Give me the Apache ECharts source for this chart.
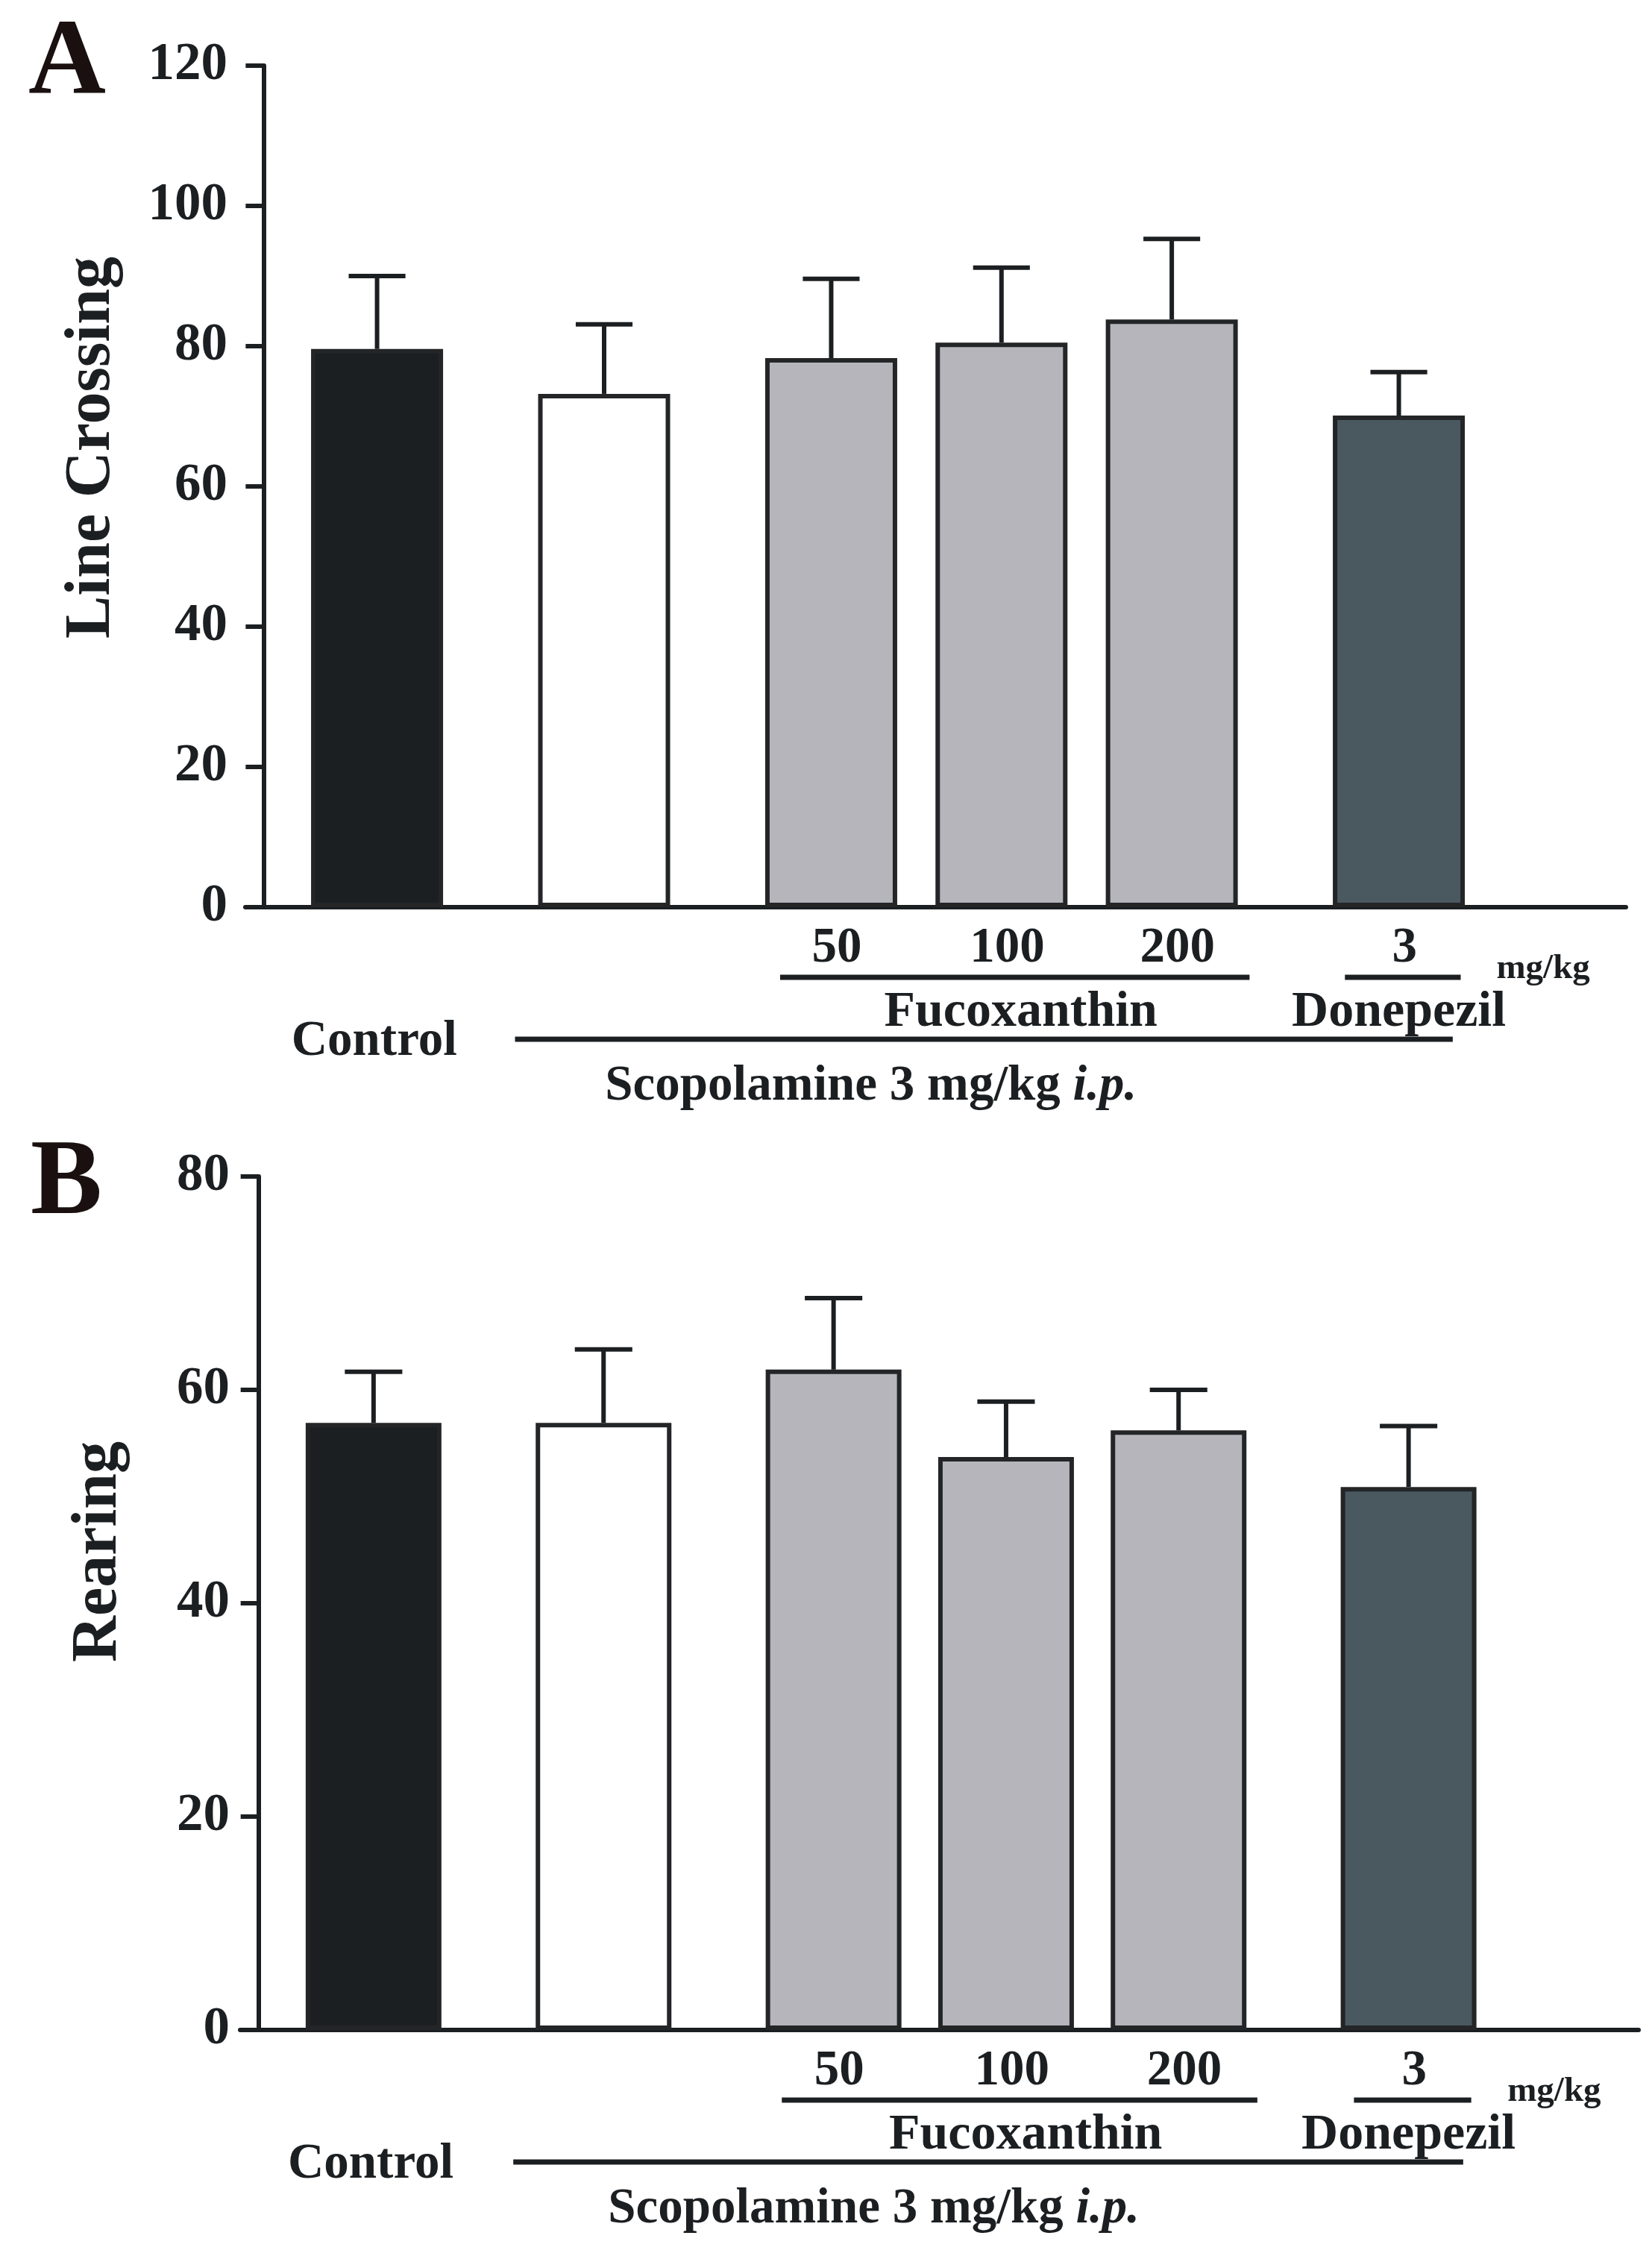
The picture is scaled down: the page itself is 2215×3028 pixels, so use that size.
<!DOCTYPE html>
<html>
<head>
<meta charset="utf-8">
<script src="https://cdn.jsdelivr.net/npm/echarts@6/dist/echarts.min.js"></script>
<style>
  html, body { margin: 0; padding: 0; background: #fff; }
  #chart { width: 2215px; height: 3028px; }
</style>
</head>
<body>
<div id="chart"></div>
<script>
// groups, in drawing order
var groups = ['Control', 'Scopolamine', 'Fucoxanthin 50', 'Fucoxanthin 100', 'Fucoxanthin 200', 'Donepezil 3'];
// place of each group on the x value axis (y axis sits at 0)
var groupPos = [2, 6, 10, 13, 16, 20];
var barColors = ['#1b1f21', '#ffffff', '#b5b5bb', '#b5b5bb', '#b5b5bb', '#4a5960'];

// A: line crossing, mean and upper error
var crossingMean = [79.6, 73.2, 78.3, 80.5, 83.8, 70.1];
var crossingErr = [10.4, 9.9, 11.3, 10.7, 11.5, 6.2];
var crossingTicks = { min: 0, max: 120, interval: 20 };

// B: rearing, mean and upper error
var rearingMean = [56.9, 56.9, 61.9, 53.7, 56.2, 50.9];
var rearingErr = [4.8, 6.9, 6.7, 5.2, 3.8, 5.7];
var rearingTicks = { min: 0, max: 80, interval: 20 };

var doseLabels = ['50', '100', '200', '3'];

var SERIF = '"Liberation Serif", "Times New Roman", serif';
var INK = '#1c1f21';

var chart = echarts.init(document.getElementById('chart'));

function barData(means) {
    return means.map(function (m, i) {
        return { value: [groupPos[i], m], itemStyle: { color: barColors[i] } };
    });
}
function errData(means, errs) {
    return means.map(function (m, i) { return [groupPos[i], m, errs[i]]; });
}

function renderErr(params, api) {
    var x = api.value(0), m = api.value(1), e = api.value(2);
    var base = api.coord([x, m]);
    var top = api.coord([x, m + e]);
    var half = api.size([1, 0])[0] * 0.5;
    var st = { stroke: INK, lineWidth: 6 };
    return {
        type: 'group',
        children: [
            { type: 'line', shape: { x1: base[0], y1: base[1], x2: top[0], y2: top[1] }, style: st },
            { type: 'line', shape: { x1: top[0] - half, y1: top[1], x2: top[0] + half, y2: top[1] }, style: st }
        ]
    };
}

function xAxisFor(idx) {
    return {
        type: 'value', gridIndex: idx, min: -0.32, max: 24,
        axisLine: { show: true, onZero: false, lineStyle: { color: INK, width: 6 } },
        axisTick: { show: false }, axisLabel: { show: false }, splitLine: { show: false }
    };
}
function yAxisFor(idx, ticks, name, gap, shift, margin) {
    return {
        type: 'value', gridIndex: idx, min: ticks.min, max: ticks.max, interval: ticks.interval,
        name: name, nameLocation: 'middle', nameRotate: 90, nameGap: gap,
        nameTextStyle: { fontFamily: SERIF, fontWeight: 'bold', fontSize: 86, color: INK, padding: [0, 0, 0, shift] },
        axisLine: { show: true, onZero: true, lineStyle: { color: INK, width: 6 } },
        axisTick: { show: true, inside: false, length: 24, lineStyle: { color: INK, width: 6 } },
        axisLabel: { fontFamily: SERIF, fontWeight: 'bold', fontSize: 71, color: INK, margin: margin },
        splitLine: { show: false }
    };
}

chart.setOption({
    backgroundColor: '#ffffff',
    animation: false,
    title: [
        { text: 'A', left: 33, top: 11, textStyle: { fontFamily: SERIF, fontWeight: 'bold', fontSize: 144, color: '#1a1010' } },
        { text: 'B', left: 36, top: 1512, textStyle: { fontFamily: SERIF, fontWeight: 'bold', fontSize: 144, color: '#1a1010' } }
    ],
    grid: [
        { left: 329, top: 88, width: 1851, height: 1128 },
        { left: 322, top: 1577, width: 1875, height: 1144 }
    ],
    xAxis: [xAxisFor(0), xAxisFor(1)],
    yAxis: [
        yAxisFor(0, crossingTicks, 'Line Crossing', 162, 104, 24),
        yAxisFor(1, rearingTicks, 'Rearing', 146, 138, 14)
    ],
    series: [
        { type: 'custom', xAxisIndex: 0, yAxisIndex: 0, renderItem: renderErr, data: errData(crossingMean, crossingErr), z: 1 },
        { type: 'bar', xAxisIndex: 0, yAxisIndex: 0, barWidth: 177, data: barData(crossingMean), z: 2,
          itemStyle: { borderColor: '#232527', borderWidth: 6 } },
        { type: 'custom', xAxisIndex: 1, yAxisIndex: 1, renderItem: renderErr, data: errData(rearingMean, rearingErr), z: 1 },
        { type: 'bar', xAxisIndex: 1, yAxisIndex: 1, barWidth: 182, data: barData(rearingMean), z: 2,
          itemStyle: { borderColor: '#232527', borderWidth: 6 } }
    ]
});

// group annotations under each panel, placed through the axes
function annotate(gi) {
    function pt(x, dy) {
        var p = chart.convertToPixel({ gridIndex: gi }, [x, 0]);
        return [p[0], p[1] + dy];
    }
    function txt(x, dy, s, size, align) {
        var p = pt(x, dy);
        return {
            type: 'text', x: p[0], y: p[1], silent: true,
            style: {
                text: s, font: 'bold ' + size + 'px ' + SERIF, fill: INK,
                align: align || 'center', verticalAlign: 'middle',
                textAlign: align || 'center', textVerticalAlign: 'middle'
            }
        };
    }
    function rule(x1, x2, dy) {
        var a = pt(x1, dy), b = pt(x2, dy);
        return { type: 'line', silent: true, shape: { x1: a[0], y1: a[1], x2: b[0], y2: b[1] },
                 style: { stroke: INK, lineWidth: 7 } };
    }
    var els = [];
    var dosePos = groupPos.slice(2);
    doseLabels.forEach(function (d, i) { els.push(txt(dosePos[i] + 0.1, 56, d, 67)); });
    els.push(rule(groupPos[2] - 0.9, groupPos[4] + 1.37, 94));
    els.push(rule(groupPos[5] - 0.95, groupPos[5] + 1.09, 94));
    els.push(txt(groupPos[5] + 1.72, 83, 'mg/kg', 47, 'left'));
    els.push(txt(13.34, 141, 'Fucoxanthin', 68));
    els.push(txt(groupPos[5], 141, 'Donepezil', 68));
    els.push(txt(groupPos[0] - 0.05, 181, 'Control', 67));
    els.push(rule(groupPos[1] - 1.57, groupPos[5] + 0.95, 177));
    var sp = pt(10.7, 241);
    els.push({
        type: 'text', x: sp[0], y: sp[1], silent: true,
        style: {
            text: '{n|Scopolamine 3 mg/kg }{i|i.p.}',
            align: 'center', verticalAlign: 'middle', textAlign: 'center', textVerticalAlign: 'middle',
            rich: {
                n: { font: 'bold 67px ' + SERIF, fill: INK, color: INK },
                i: { font: 'italic bold 67px ' + SERIF, fill: INK, color: INK }
            }
        }
    });
    return els;
}

chart.setOption({ graphic: annotate(0).concat(annotate(1)) });
</script>
</body>
</html>
